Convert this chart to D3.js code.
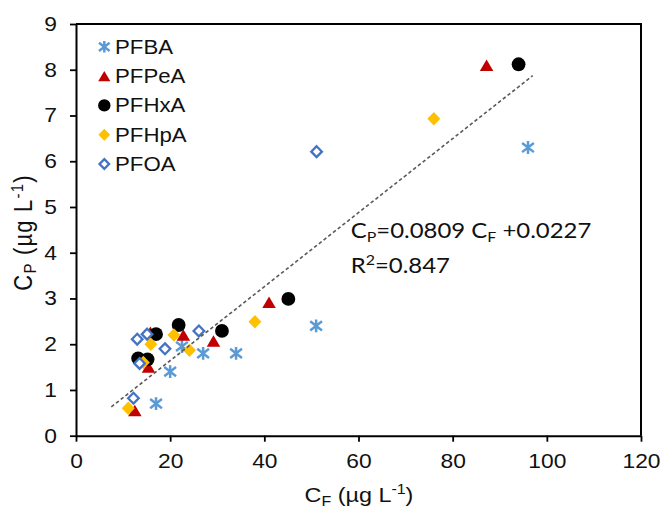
<!DOCTYPE html>
<html>
<head>
<meta charset="utf-8">
<script src="https://cdn.jsdelivr.net/npm/d3@7"></script>
<style>
  html, body { margin: 0; padding: 0; background: #fff; }
  svg { display: block; }
</style>
</head>
<body>
<script>
// Measured concentrations: C_F (feed, µg/L) vs C_P (permeate, µg/L)
const seriesNames = ["PFBA", "PFPeA", "PFHxA", "PFHpA", "PFOA"];

const pfbaCF  = [17, 20, 22.5, 27, 34, 51, 96];
const pfbaCP  = [0.7, 1.4, 1.95, 1.8, 1.8, 2.4, 6.3];

const pfpeaCF = [12.5, 15.4, 15.8, 22.8, 29.2, 41, 87.2];
const pfpeaCP = [0.55, 1.5, 2.26, 2.2, 2.07, 2.92, 8.1];

const pfhxaCF = [13.2, 15.2, 17, 21.8, 31, 45.1, 94];
const pfhxaCP = [1.69, 1.67, 2.22, 2.42, 2.29, 2.99, 8.12];

const pfhpaCF = [11.1, 14.3, 15.9, 20.8, 24.1, 38, 76];
const pfhpaCP = [0.6, 1.6, 2.0, 2.2, 1.87, 2.49, 6.93];

const pfoaCF  = [12.2, 13, 13.5, 15.1, 18.9, 26.1, 51.1];
const pfoaCP  = [0.82, 2.11, 1.58, 2.22, 1.9, 2.29, 6.21];

const xTicks = [0, 20, 40, 60, 80, 100, 120];
const yTicks = [0, 1, 2, 3, 4, 5, 6, 7, 8, 9];

// Linear fit over all compounds
const fitSlope = 0.0809;
const fitIntercept = 0.0227;
const fitR2 = 0.847;
const fitSpan = [7.5, 97];

const W = 661, H = 511;
const plot = { left: 76, right: 641, top: 24, bottom: 435.7 };
const SX = 1.14; // horizontal text stretch
const fontAxis = "'Liberation Sans', Arial, sans-serif";
const fontNote = "Lato, 'Open Sans', sans-serif";

const x = d3.scaleLinear().domain([0, 120]).range([plot.left, plot.right]);
const y = d3.scaleLinear().domain([0, 9]).range([plot.bottom, plot.top]);

const svg = d3.select("body").append("svg")
  .attr("width", W).attr("height", H)
  .attr("viewBox", `0 0 ${W} ${H}`);

// marker shapes (bounding box centred on the point)
function markerPath(kind, s) {
  const p = d3.path();
  if (kind === "triangle") {
    const w = 13.5 * s, h = 11.5 * s;
    p.moveTo(0, -h / 2); p.lineTo(w / 2, h / 2); p.lineTo(-w / 2, h / 2); p.closePath();
  } else if (kind === "diamond") {
    const w = 13 * s, h = 13.5 * s;
    p.moveTo(0, -h / 2); p.lineTo(w / 2, 0); p.lineTo(0, h / 2); p.lineTo(-w / 2, 0); p.closePath();
  } else if (kind === "openDiamond") {
    const w = 10.6 * s, h = 10.8 * s;
    p.moveTo(0, -h / 2); p.lineTo(w / 2, 0); p.lineTo(0, h / 2); p.lineTo(-w / 2, 0); p.closePath();
  } else if (kind === "star") {
    const r = 6.4 * s;
    p.moveTo(0, -r); p.lineTo(0, r);
    p.moveTo(-r * 0.92, -r * 0.72); p.lineTo(r * 0.92, r * 0.72);
    p.moveTo(-r * 0.92, r * 0.72); p.lineTo(r * 0.92, -r * 0.72);
  }
  return p.toString();
}

const series = [
  { name: seriesNames[0], xs: pfbaCF,  ys: pfbaCP,  kind: "star",        color: "#5B9BD5" },
  { name: seriesNames[1], xs: pfpeaCF, ys: pfpeaCP, kind: "triangle",    color: "#C00000" },
  { name: seriesNames[2], xs: pfhxaCF, ys: pfhxaCP, kind: "circle",      color: "#000000" },
  { name: seriesNames[3], xs: pfhpaCF, ys: pfhpaCP, kind: "diamond",     color: "#FFC000" },
  { name: seriesNames[4], xs: pfoaCF,  ys: pfoaCP,  kind: "openDiamond", color: "#4472C4" }
];

function drawMarker(g, kind, color, s) {
  if (kind === "circle") {
    g.append("circle").attr("r", 6.9 * s).attr("fill", color);
  } else if (kind === "star") {
    g.append("path").attr("d", markerPath(kind, s))
      .attr("fill", "none").attr("stroke", color).attr("stroke-width", 2.5).attr("stroke-linecap", "butt");
  } else if (kind === "openDiamond") {
    g.append("path").attr("d", markerPath(kind, s))
      .attr("fill", "#fff").attr("stroke", color).attr("stroke-width", 2.3);
  } else {
    g.append("path").attr("d", markerPath(kind, s)).attr("fill", color);
  }
}

// axes
const yAxis = svg.append("g")
  .attr("transform", `translate(${plot.left},0)`)
  .call(d3.axisLeft(y).tickValues(yTicks).tickSize(6).tickSizeOuter(0).tickFormat(d3.format("d")));
const xAxis = svg.append("g")
  .attr("transform", `translate(0,${plot.bottom})`)
  .call(d3.axisBottom(x).tickValues(xTicks).tickSize(6).tickSizeOuter(0).tickFormat(d3.format("d")));

[yAxis, xAxis].forEach(a => {
  a.select(".domain").attr("stroke", "#000").attr("stroke-width", 2);
  a.selectAll(".tick line").attr("stroke", "#000").attr("stroke-width", 1.8);
  a.selectAll(".tick text")
    .attr("font-family", fontAxis).attr("font-size", 20).attr("fill", "#111");
});
yAxis.selectAll(".tick text").attr("x", -19 / SX).attr("dy", "0.32em")
  .attr("transform", `scale(${SX},1)`);
xAxis.selectAll(".tick text").attr("y", 32.6).attr("dy", 0)
  .attr("transform", `scale(${SX},1)`);

// plot frame (top and right)
svg.append("path")
  .attr("d", `M${plot.left},${plot.top}H${plot.right}V${plot.bottom}`)
  .attr("fill", "none").attr("stroke", "#000").attr("stroke-width", 2);

// data points
series.forEach(sr => {
  const g = svg.append("g").attr("class", "series");
  sr.xs.forEach((cf, i) => {
    const m = g.append("g").attr("transform", `translate(${x(cf)},${y(sr.ys[i])})`);
    drawMarker(m, sr.kind, sr.color, 1);
  });
});

// trend line
svg.append("line")
  .attr("x1", x(fitSpan[0])).attr("y1", y(fitSlope * fitSpan[0] + fitIntercept))
  .attr("x2", x(fitSpan[1])).attr("y2", y(fitSlope * fitSpan[1] + fitIntercept))
  .attr("stroke", "#595959").attr("stroke-width", 1.6).attr("stroke-dasharray", "3.5,2.5");

// legend
series.forEach((sr, i) => {
  const ry = 46.8 + 29.3 * i;
  const m = svg.append("g").attr("transform", `translate(104.3,${ry})`);
  drawMarker(m, sr.kind, sr.color, 0.9);
  svg.append("g").attr("transform", `translate(115,${ry + 6.8}) scale(${SX},1)`)
    .append("text").attr("font-family", fontAxis).attr("font-size", 19.5).attr("fill", "#111")
    .text(sr.name);
});

// axis titles
const xt = svg.append("g").attr("transform", `translate(359,501.7) scale(${SX},1)`)
  .append("text").attr("text-anchor", "middle")
  .attr("font-family", fontAxis).attr("font-size", 20.5).attr("fill", "#111");
xt.append("tspan").text("C");
xt.append("tspan").attr("font-size", 14).attr("dy", 4).text("F");
xt.append("tspan").attr("dy", -4).text(" (µg L");
xt.append("tspan").attr("font-size", 14).attr("dy", -8).text("-1");
xt.append("tspan").attr("dy", 8).text(")");

const yt = svg.append("g").attr("transform", `translate(31.7,232.5) rotate(-90) scale(1,${SX})`)
  .append("text").attr("text-anchor", "middle")
  .attr("font-family", fontAxis).attr("font-size", 22).attr("letter-spacing", 1.2).attr("fill", "#111");
yt.append("tspan").text("C");
yt.append("tspan").attr("font-size", 15).attr("dy", 4).text("P");
yt.append("tspan").attr("dy", -4).text(" (µg L");
yt.append("tspan").attr("font-size", 15).attr("dy", -8).text("-1");
yt.append("tspan").attr("dy", 8).text(")");

// fit equation
const eq = svg.append("g").attr("transform", `translate(350.7,238.3) scale(${SX},1)`)
  .append("text").attr("font-family", fontNote).attr("font-size", 21).attr("fill", "#111");
eq.append("tspan").text("C");
eq.append("tspan").attr("font-size", 14).attr("dy", 4).text("P");
eq.append("tspan").attr("dy", -4).text(`=${fitSlope} C`);
eq.append("tspan").attr("font-size", 14).attr("dy", 4).text("F");
eq.append("tspan").attr("dy", -4).text(` +${fitIntercept}`);

const r2 = svg.append("g").attr("transform", `translate(350.7,273.3) scale(${SX},1)`)
  .append("text").attr("font-family", fontNote).attr("font-size", 21).attr("fill", "#111");
r2.append("tspan").text("R");
r2.append("tspan").attr("font-size", 14).attr("dy", -8).text("2");
r2.append("tspan").attr("dy", 8).text(`=${fitR2}`);
</script>
</body>
</html>
